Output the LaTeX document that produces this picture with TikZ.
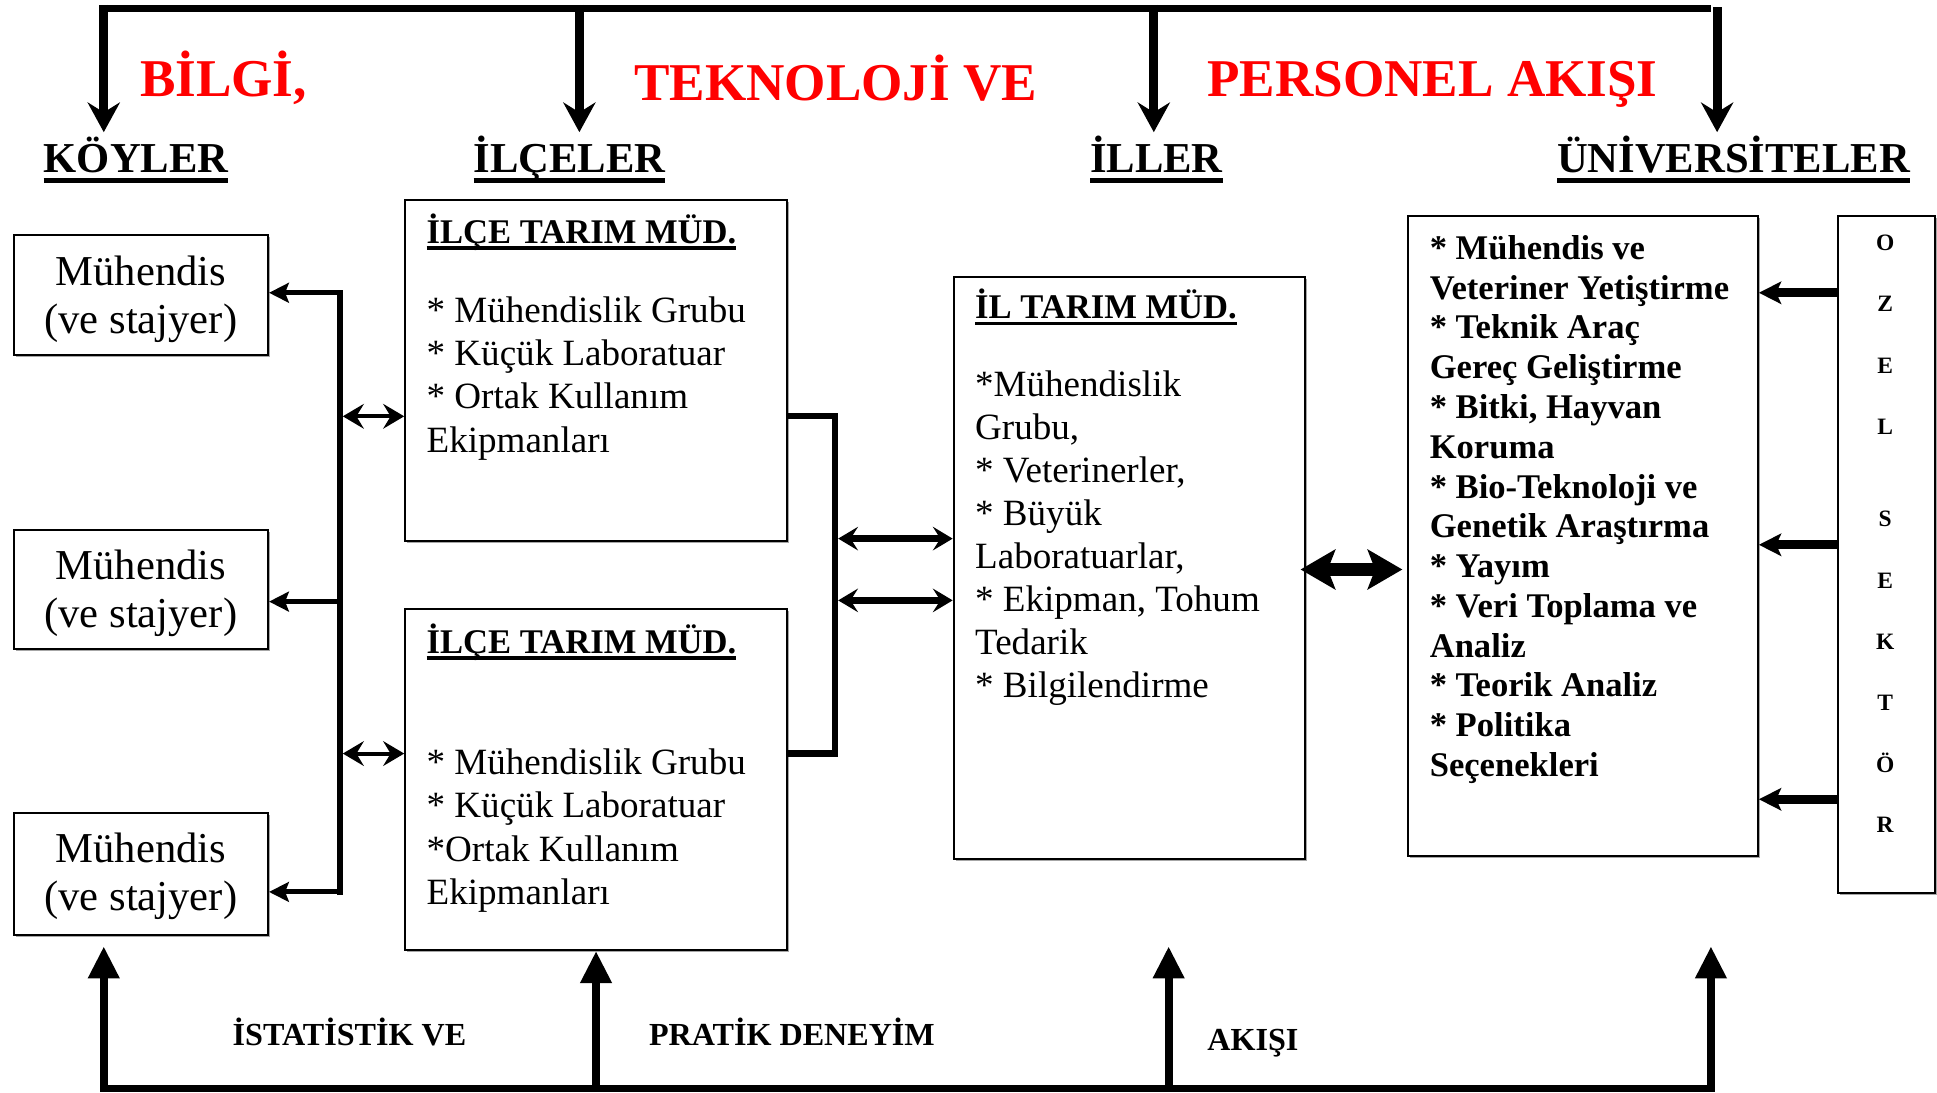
\documentclass[tikz,border=0pt]{standalone}
\usepackage{fontspec}
\setmainfont{Liberation Serif}
\usetikzlibrary{arrows.meta,shadows,calc}
\newsavebox{\ulbox}
\newcommand{\ulx}[3]{\sbox\ulbox{#3}\rlap{\rule[-#1]{\wd\ulbox}{#2}}\usebox\ulbox}
\tikzset{
  boxst/.style={draw, line width=0.8pt, fill=white, inner sep=0pt,
    drop shadow={shadow xshift=0.8pt, shadow yshift=-0.8pt, fill=gray!70, opacity=1}},
  mtxt/.style={font=\fontsize{17.25pt}{19.5pt}\selectfont, align=center, inner sep=0pt},
  ltxt/.style={font=\fontsize{15pt}{17.5pt}\selectfont, anchor=base west, inner sep=0pt},
  btxt/.style={font=\bfseries\fontsize{14pt}{16pt}\selectfont, anchor=base west, inner sep=0pt},
  hdtxt/.style={font=\bfseries\fontsize{17.25pt}{20pt}\selectfont, anchor=base west, inner sep=0pt},
  redt/.style={font=\bfseries\fontsize{21.5pt}{24pt}\selectfont, text=red, anchor=base west, inner sep=0pt},
  bott/.style={font=\bfseries\fontsize{13pt}{15pt}\selectfont, anchor=base west, inner sep=0pt},
  sekt/.style={font=\bfseries\fontsize{9.5pt}{11pt}\selectfont, anchor=base, inner sep=0pt},
  thk/.style={line width=3pt},
  topar/.style={line width=3.75pt, -{Stealth[length=12pt,width=13pt,inset=4pt]}},
  upar/.style={line width=3.3pt, -{Triangle[length=13pt,width=12pt]}},
  busl/.style={line width=2.5pt, line cap=rect},
  busar/.style={line width=2pt, -{Stealth[length=8pt,width=8pt,inset=1.5pt]}},
  sdbl/.style={line width=1.6pt, {Stealth[length=8.5pt,width=10pt,inset=3pt]}-{Stealth[length=8.5pt,width=10pt,inset=3pt]}},
  mdbl/.style={line width=3pt, {Stealth[length=8pt,width=9.5pt,inset=3pt]}-{Stealth[length=8pt,width=9.5pt,inset=3pt]}},
  bdbl/.style={line width=5pt, {Stealth[length=14pt,width=16pt,inset=3pt]}-{Stealth[length=14pt,width=16pt,inset=3pt]}},
  sar/.style={line width=3.5pt, -{Stealth[length=9pt,width=9pt,inset=2pt]}},
}
\begin{document}
\begin{tikzpicture}[x=0.5pt, y=-0.5pt, line join=miter]
\useasboundingbox (0,0) rectangle (1568,884);

% ---------- boxes ----------
\node[boxst, minimum width=103pt, minimum height=48.5pt] (m1) at (114,238.5) {};
\node[boxst, minimum width=103pt, minimum height=48pt] (m2) at (114,477) {};
\node[boxst, minimum width=103pt, minimum height=49.5pt] (m3) at (114,707.5) {};
\node[boxst, minimum width=154.5pt, minimum height=138pt] (ilA) at (482.5,300) {};
\node[boxst, minimum width=154.5pt, minimum height=138pt] (ilB) at (482.5,631) {};
\node[boxst, minimum width=142pt, minimum height=235.5pt] (il) at (914,459.5) {};
\node[boxst, minimum width=141.5pt, minimum height=259pt] (uni) at (1281.5,434) {};
\node[boxst, minimum width=39pt, minimum height=274pt] (oz) at (1527,449) {};

% ---------- left boxes text ----------
\node[mtxt] (m1t) at ($(m1.center)+(0,4)$) {Mühendis\\(ve stajyer)};
\node[mtxt] (m2t) at ($(m2.center)+(0,3.5)$) {Mühendis\\(ve stajyer)};
\node[mtxt] (m3t) at ($(m3.center)+(0,2)$) {Mühendis\\(ve stajyer)};

% ---------- ilce boxes text ----------
\node[btxt] (ilAh) at (345,197) {\ulx{2.7pt}{1.5pt}{İLÇE TARIM MÜD.}};
\foreach \t [count=\i] in {* Mühendislik Grubu, * Küçük Laboratuar, * Ortak Kullanım, Ekipmanları}
  \node[ltxt] (ilAl\i) at (345,{261+(\i-1)*35}) {\t};
\node[btxt] (ilBh) at (345,529) {\ulx{2.7pt}{1.5pt}{İLÇE TARIM MÜD.}};
\foreach \t [count=\i] in {* Mühendislik Grubu, * Küçük Laboratuar, *Ortak Kullanım, Ekipmanları}
  \node[ltxt] (ilBl\i) at (345,{627+(\i-1)*35}) {\t};

% ---------- il box text ----------
\node[btxt] (ilh) at (789,258) {\ulx{2.7pt}{1.5pt}{İL TARIM MÜD.}};
\foreach \t [count=\i] in {*Mühendislik, {Grubu,}, {* Veterinerler,}, * Büyük, {Laboratuarlar,}, {* Ekipman, Tohum}, Tedarik, * Bilgilendirme}
  \node[ltxt] (ill\i) at (789,{321+(\i-1)*34.8}) {\t};

% ---------- universite text ----------
\foreach \t [count=\i] in {* Mühendis ve, Veteriner Yetiştirme, * Teknik Araç, Gereç Geliştirme, {* Bitki, Hayvan}, Koruma, * Bio-Teknoloji ve, Genetik Araştırma, * Yayım, * Veri Toplama ve, Analiz, * Teorik Analiz, * Politika, Seçenekleri}
  \node[btxt] (unl\i) at (1157,{210+(\i-1)*32.2}) {\t};

% ---------- ozel sektor letters ----------
\foreach \t/\yy [count=\i] in {O/203, Z/252, E/302, L/352, S/426.5, E/476, K/525.5, T/575, Ö/625, R/673.5}
  \node[sekt] (oz\i) at (1526,\yy) {\t};

% ---------- headings ----------
\node[redt] (r1) at (113,78) {BİLGİ,};
\node[redt] (r2) at (513,81) {TEKNOLOJİ VE};
\node[redt] (r3) at (977,78) {PERSONEL AKIŞI};
\node[hdtxt] (h1) at (35,140) {\ulx{4pt}{2pt}{KÖYLER}};
\node[hdtxt] (h2) at (383,140) {\ulx{4pt}{2pt}{İLÇELER}};
\node[hdtxt] (h3) at (882,140) {\ulx{4pt}{2pt}{İLLER}};
\node[hdtxt] (h4) at (1260,140) {\ulx{4pt}{2pt}{ÜNİVERSİTELER}};

% ---------- bottom labels ----------
\node[bott] (b1t) at (188,846) {İSTATİSTİK VE};
\node[bott] (b2t) at (525,846) {PRATİK DENEYİM};
\node[bott] (b3t) at (977,850) {AKIŞI};

% ---------- top flow ----------
\coordinate (tl) at (83,7);
\coordinate (tr) at (1385,7);
\coordinate (k1) at (84,4);    \coordinate (k1e) at (84,107);
\coordinate (k2) at (469,4);   \coordinate (k2e) at (469,107);
\coordinate (k3) at (934,4);   \coordinate (k3e) at (934,107);
\coordinate (k4) at (1390,6);  \coordinate (k4e) at (1390,107);
\draw[thk] (tl) -- (tr);
\draw[topar] (k1) -- (k1e);
\draw[topar] (k2) -- (k2e);
\draw[topar] (k3) -- (k3e);
\draw[topar] (k4) -- (k4e);

% ---------- bottom flow ----------
\coordinate (bl) at (81,881);
\coordinate (br) at (1388,881);
\coordinate (u1) at (84,881);   \coordinate (u1e) at (84,766);
\coordinate (u2) at (482.5,881);
\coordinate (u3) at (946,881);  \coordinate (u3e) at (946,766);
\coordinate (u4) at (1385,881); \coordinate (u4e) at (1385,766);
\draw[thk] (bl) -- (br);
\draw[upar] (u1) -- (u1e);
\draw[upar] (u2) -- (ilB.south);
\draw[upar] (u3) -- (u3e);
\draw[upar] (u4) -- (u4e);

% ---------- left bus ----------
\coordinate (L1) at (275,237);
\coordinate (L2) at (275,487);
\coordinate (L3) at (275,722);
\draw[busl] (L1) -- (L3);
\draw[busar] (L1) -- (L1 -| m1.east);
\draw[busar] (L2) -- (L2 -| m2.east);
\draw[busar] (L3) -- (L3 -| m3.east);
\coordinate (D1) at (277.5,337);
\coordinate (D2) at (277.5,610);
\draw[sdbl] (D1) -- (D1 -| ilA.west);
\draw[sdbl] (D2) -- (D2 -| ilB.west);

% ---------- ilce right bus ----------
\coordinate (R1) at (676,337);
\coordinate (R2) at (676,610);
\draw[line width=2.5pt] (R1 -| ilA.east) -- (R1) -- (R2) -- (R2 -| ilB.east);
\coordinate (Q1) at (678.5,436);
\coordinate (Q2) at (678.5,486);
\draw[mdbl] (Q1) -- (Q1 -| il.west);
\draw[mdbl] (Q2) -- (Q2 -| il.west);

% ---------- il <-> universite ----------
\coordinate (B0) at (1100,461);
\draw[bdbl, shorten <=-2pt, shorten >=2pt] (B0 -| il.east) -- (B0 -| uni.west);

% ---------- ozel sektor -> universite ----------
\coordinate (S1) at (1488,237);
\coordinate (S2) at (1488,441);
\coordinate (S3) at (1488,647);
\draw[sar] (S1 -| oz.west) -- (S1 -| uni.east);
\draw[sar] (S2 -| oz.west) -- (S2 -| uni.east);
\draw[sar] (S3 -| oz.west) -- (S3 -| uni.east);
\end{tikzpicture}
\end{document}
